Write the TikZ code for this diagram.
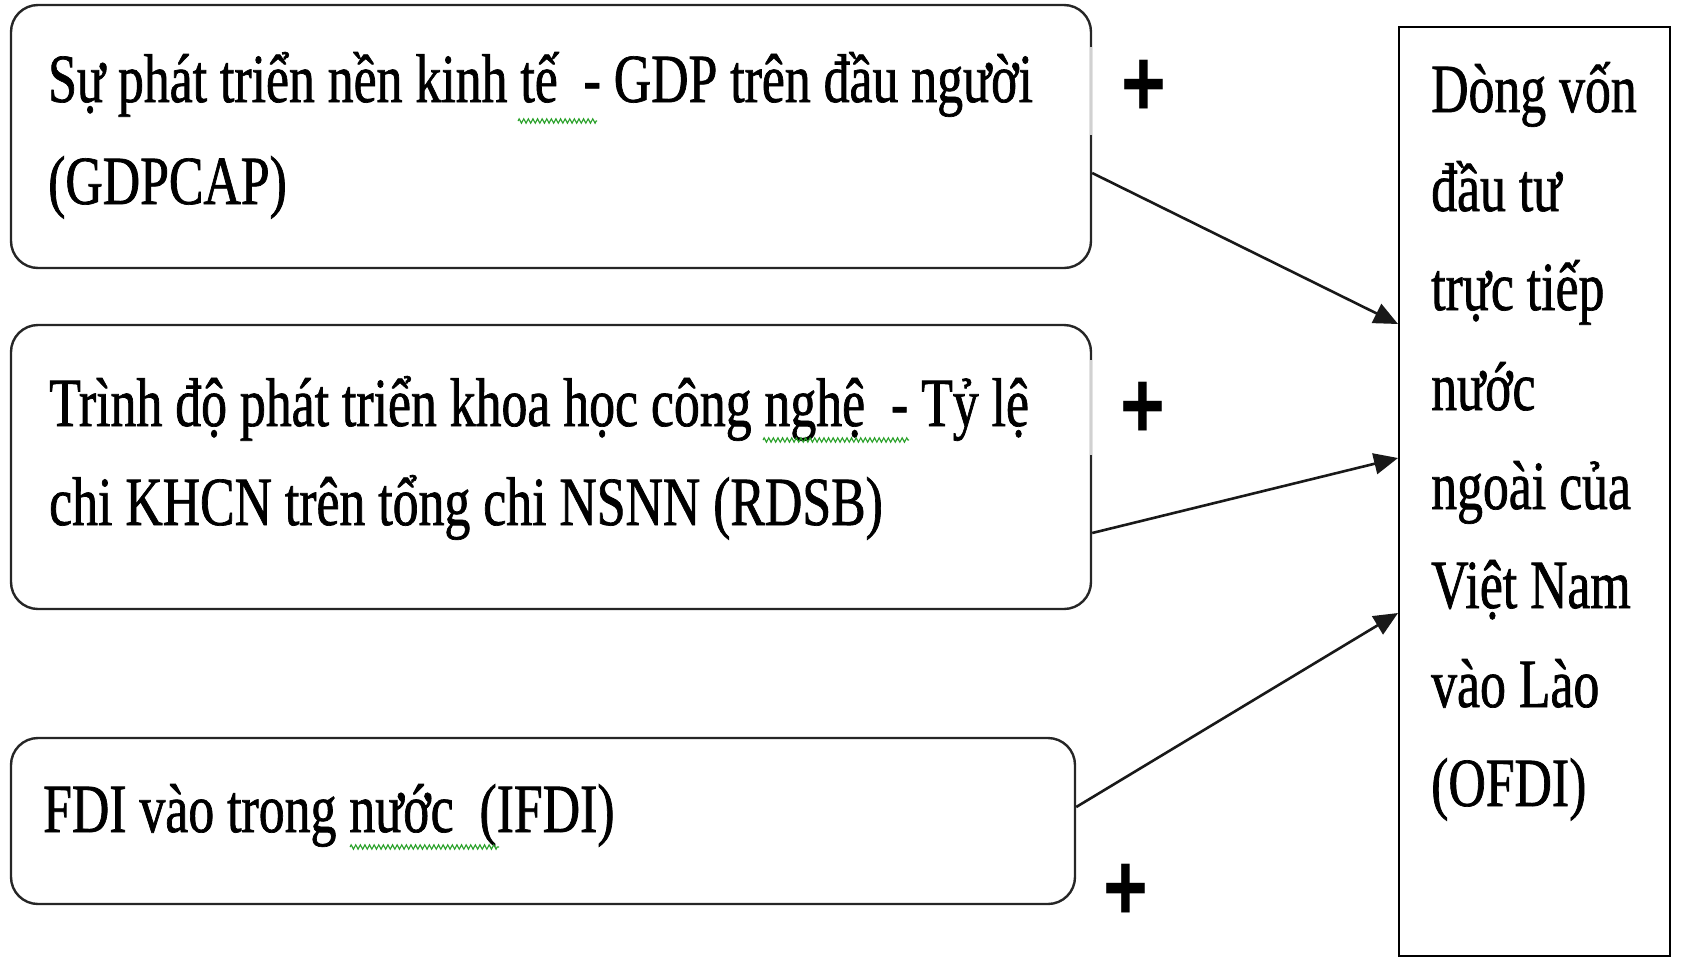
\documentclass[tikz,border=0pt]{standalone}
\usepackage{fontspec}
\usetikzlibrary{arrows.meta,decorations.pathmorphing}
\newfontfamily\bodyfont[FakeStretch=0.75, FakeBold=1]{Liberation Serif}
\newfontfamily\signfont[FakeStretch=0.8]{Liberation Sans}
\definecolor{spell}{RGB}{40,160,40}
\tikzset{
  factor/.style={draw=black!85, line width=2.4pt, rounded corners=27pt,
    rectangle, inner sep=0pt, fill=white},
  target/.style={draw=black, line width=2pt, rectangle, inner sep=0pt},
  txt/.style={anchor=base west, inner sep=0pt,
    font=\bodyfont\fontsize{69}{99}\selectfont},
  sign/.style={inner sep=0pt, font=\signfont\bfseries\fontsize{96}{96}\selectfont},
  link/.style={draw=black!90, line width=2.6pt,
    -{Triangle[length=24pt,width=21pt]}},
  squiggle/.style={draw=spell, line width=1.1pt,
    decorate, decoration={zigzag, amplitude=2.2pt, segment length=4.6pt}},
  gap/.style={draw=black!18, line width=2.6pt}
}
\begin{document}
\begin{tikzpicture}[x=1pt,y=-1pt]
\useasboundingbox (0,0) rectangle (1681,959);

% factor boxes on the left
\node[factor, minimum width=1080pt, minimum height=263pt] (b1) at (551,136.5) {};
\node[factor, minimum width=1080pt, minimum height=284pt] (b2) at (551,467) {};
\node[factor, minimum width=1064pt, minimum height=166pt] (b3) at (543,821) {};

% outcome box on the right
\node[target, minimum width=271pt, minimum height=929pt] (ofdi) at (1534.5,491.5) {};

% edge segments hidden behind the sign labels
\draw[gap] (1091,47) -- (1091,135);
\draw[gap] (1091,360) -- (1091,455);

% box texts
\node[txt] (t1a) at (48,102) {Sự phát triển nền kinh tế~~- GDP trên đầu người};
\node[txt] (t1b) at (48,204) {(GDPCAP)};
\node[txt] (t2a) at (49,426) {Trình độ phát triển khoa học công nghệ~~- Tỷ lệ};
\node[txt] (t2b) at (49,525) {chi KHCN trên tổng chi NSNN (RDSB)};
\node[txt] (t3a) at (43,832) {FDI vào trong nước~~(IFDI)};

\node[txt] (r1) at (1431,112) {Dòng vốn};
\node[txt] (r2) at (1431,211) {đầu tư};
\node[txt] (r3) at (1431,310) {trực tiếp};
\node[txt] (r4) at (1431,410) {nước};
\node[txt] (r5) at (1431,509) {ngoài của};
\node[txt] (r6) at (1431,608) {Việt Nam};
\node[txt] (r7) at (1431,707) {vào Lào};
\node[txt] (r8) at (1431,806) {(OFDI)};

% spelling marks under words
\draw[squiggle] (518,121) -- (597,121);
\draw[squiggle] (763,440) -- (909,440);
\draw[squiggle] (350,847) -- (499,847);

% effects
\draw[link] ([yshift=-36.5pt]b1.east) -- ([yshift=167.5pt]ofdi.west);
\draw[link] ([yshift=-66pt]b2.east) -- ([yshift=33.5pt]ofdi.west);
\draw[link] ([yshift=14pt]b3.east) -- ([yshift=-121.5pt]ofdi.west);

% signs of the effects
\node[sign] (s1) at (1144,88) {+};
\node[sign] (s2) at (1143,410) {+};
\node[sign] (s3) at (1126,892) {+};
\end{tikzpicture}
\end{document}
